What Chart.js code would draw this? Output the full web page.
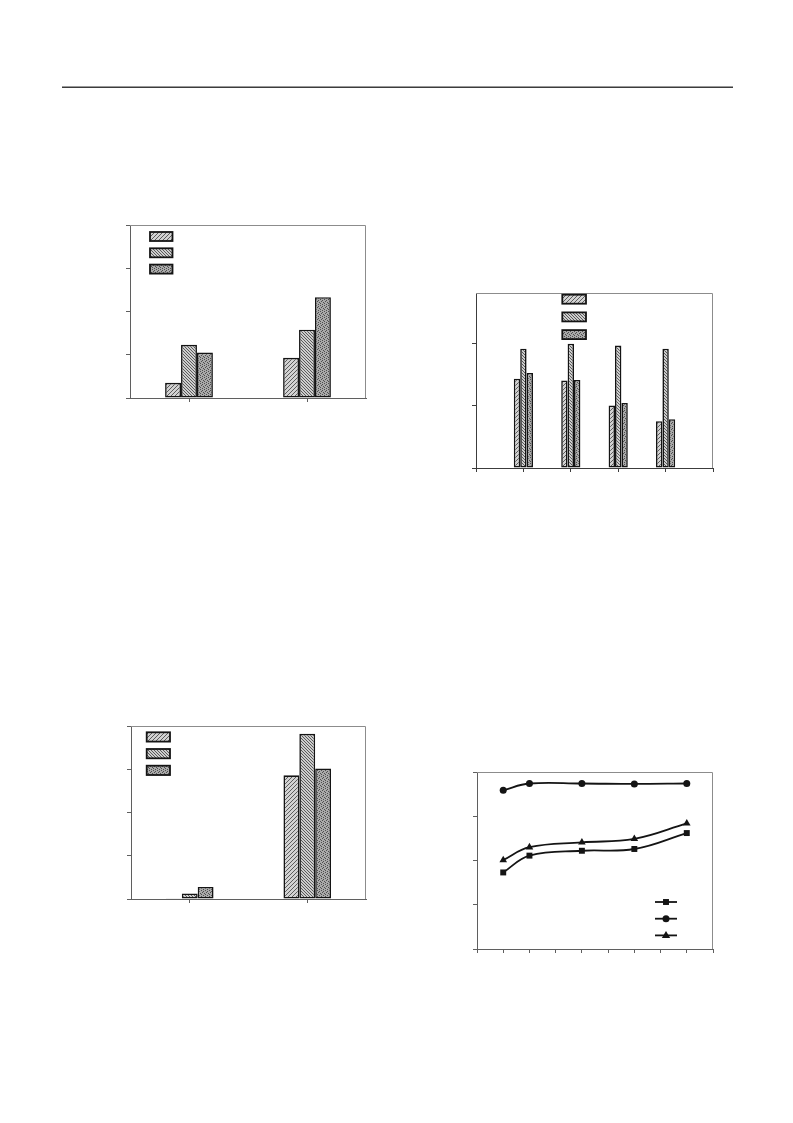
<!DOCTYPE html>
<html>
<head>
<meta charset="utf-8">
<script src="https://cdn.jsdelivr.net/npm/chart.js@4.4.1/dist/chart.umd.min.js"></script>
<style>
  html, body { margin: 0; padding: 0; background: #fff; }
  body { width: 793px; height: 1123px; position: relative; overflow: hidden; font-family: "Liberation Serif", serif; }
  .rule { position: absolute; left: 62px; top: 86px; width: 671px; height: 0;
          border-top: 1px solid #9a9a9a; border-bottom: 1px solid #3c3c3c; }
  canvas { position: absolute; }
</style>
</head>
<body>
<div class="rule"></div>
<canvas id="chartTopLeft"  width="260" height="197" style="left:116px;top:215px;width:260px;height:197px"></canvas>
<canvas id="chartTopRight" width="261" height="199" style="left:462px;top:283px;width:261px;height:199px"></canvas>
<canvas id="chartLowLeft"  width="259" height="197" style="left:117px;top:716px;width:259px;height:197px"></canvas>
<canvas id="chartLowRight" width="260" height="201" style="left:463px;top:762px;width:260px;height:201px"></canvas>

<script>
// ---- values ----
// upper-left grouped bars (two groups, three series)
const pairCategories = ['1', '2'];
const pairSeriesA = [0.35, 0.93];
const pairSeriesB = [1.23, 1.58];
const pairSeriesC = [1.05, 2.33];
const pairAxisRange = [0, 4];

// upper-right grouped bars (four groups, empty slots at both ends)
const stageCategories = ['', '1', '2', '3', '4', ''];
const stageSeriesA = [null, 1.43, 1.40, 1.00, 0.75, null];
const stageSeriesB = [null, 1.91, 1.99, 1.96, 1.91, null];
const stageSeriesC = [null, 1.52, 1.41, 1.04, 0.78, null];
const stageAxisRange = [0, 2.8];

// lower-left grouped bars
const lowCategories = ['1', '2'];
const lowSeriesA = [0.02, 2.86];
const lowSeriesB = [0.13, 3.82];
const lowSeriesC = [0.28, 3.02];
const lowAxisRange = [0, 4];

// lower-right line chart
const lineX = [1, 2, 4, 6, 8];
const lineSquares   = [1.73, 2.11, 2.22, 2.26, 2.62];
const lineCircles   = [3.59, 3.74, 3.74, 3.73, 3.74];
const lineTriangles = [2.01, 2.30, 2.41, 2.49, 2.84];
const lineXRange = [0, 9];
const lineYRange = [0, 4];

// ---- fill patterns ----
function hatch(dir, bg, fg, step) {
  const c = document.createElement('canvas');
  c.width = c.height = step;
  const g = c.getContext('2d');
  g.fillStyle = bg; g.fillRect(0, 0, step, step);
  g.strokeStyle = fg; g.lineWidth = 1;
  g.beginPath();
  for (let k = -1; k <= 1; k++) {
    if (dir > 0) { g.moveTo(k * step, step); g.lineTo(k * step + step, 0); }
    else { g.moveTo(k * step, 0); g.lineTo(k * step + step, step); }
  }
  g.stroke();
  return g.createPattern(c, 'repeat');
}
function stipple(bg, fg) {
  const mask = ['1000', '0010', '0100', '0001', '1000', '0010'];
  const c = document.createElement('canvas');
  c.width = 4; c.height = mask.length;
  const g = c.getContext('2d');
  g.fillStyle = bg; g.fillRect(0, 0, c.width, c.height);
  g.fillStyle = fg;
  mask.forEach((row, y) => [...row].forEach((v, x) => { if (v === '1') g.fillRect(x, y, 1, 1); }));
  return g.createPattern(c, 'repeat');
}
const fillA = hatch(1, '#d2d2d2', '#5c5c5c', 4);
const fillB = hatch(-1, '#cdcdcd', '#5a5a5a', 3);
const fillC = stipple('#a9a9a9', '#4e4e4e');

const AXIS = '#5f5f5f';
const FRAME = '#8c8c8c';

// top and right edges of the plot frame
const framePlugin = {
  id: 'frame',
  beforeDatasetsDraw(chart) {
    const { ctx, chartArea: a } = chart;
    const t = Math.round(a.top) + 0.5, r = Math.round(a.right) - 0.5;
    ctx.save();
    ctx.strokeStyle = FRAME; ctx.lineWidth = 1;
    ctx.beginPath();
    ctx.moveTo(a.left, t); ctx.lineTo(r, t); ctx.lineTo(r, a.bottom);
    ctx.stroke();
    ctx.restore();
  }
};

// key drawn inside the plot area, one entry per dataset
const keyPlugin = {
  id: 'insideKey',
  afterDraw(chart, args, o) {
    if (!o || !o.kind) return;
    const { ctx, chartArea: a } = chart;
    ctx.save();
    chart.data.datasets.forEach((ds, i) => {
      const x = a.left + o.x, y = a.top + o.y + i * o.gap;
      if (o.kind === 'box') {
        ctx.fillStyle = ds.backgroundColor;
        ctx.fillRect(x, y, o.w, o.h);
        ctx.lineWidth = 1.8; ctx.strokeStyle = '#141414';
        ctx.strokeRect(x, y, o.w, o.h);
      } else {
        ctx.strokeStyle = ds.borderColor; ctx.lineWidth = ds.borderWidth;
        ctx.beginPath(); ctx.moveTo(x, y); ctx.lineTo(x + o.w, y); ctx.stroke();
        const cx = x + o.w / 2, r = ds.pointRadius;
        ctx.fillStyle = '#141414';
        ctx.beginPath();
        if (ds.pointStyle === 'rect') {
          const s = r * Math.SQRT1_2; ctx.rect(cx - s, y - s, 2 * s, 2 * s);
        } else if (ds.pointStyle === 'triangle') {
          ctx.moveTo(cx, y - r); ctx.lineTo(cx + r * 0.95, y + r * 0.6); ctx.lineTo(cx - r * 0.95, y + r * 0.6); ctx.closePath();
        } else {
          ctx.arc(cx, y, r, 0, Math.PI * 2);
        }
        ctx.fill();
      }
    });
    ctx.restore();
  }
};

function barDataset(values, fill) {
  return { label: '', data: values, backgroundColor: fill, borderColor: '#141414', borderWidth: 1.6,
           borderSkipped: false, categoryPercentage: 0.405, barPercentage: 1.0 };
}

function valueAxis(range, color) {
  return {
    min: range[0], max: range[1],
    ticks: { display: false, stepSize: 1, includeBounds: false },
    grid: { drawOnChartArea: false, drawTicks: true, tickLength: 4, color: color || AXIS, tickWidth: 1 },
    border: { display: true, color: color || AXIS, width: 1 }
  };
}

function baseOptions(extra) {
  return Object.assign({
    responsive: false, animation: false, devicePixelRatio: 1,
    layout: { padding: { left: 10, top: 10, right: 10, bottom: 10 } },
  }, extra);
}

// upper-left
new Chart(document.getElementById('chartTopLeft'), {
  type: 'bar',
  data: { labels: pairCategories, datasets: [barDataset(pairSeriesA, fillA), barDataset(pairSeriesB, fillB), barDataset(pairSeriesC, fillC)] },
  options: baseOptions({
    plugins: { legend: { display: false }, tooltip: { enabled: false },
               insideKey: { kind: 'box', x: 20, y: 7, w: 22.5, h: 9, gap: 16.3 } },
    scales: {
      x: { type: 'category', offset: true, ticks: { display: false },
           grid: { offset: false, drawOnChartArea: false, drawTicks: true, tickLength: 4, color: AXIS },
           border: { display: true, color: AXIS, width: 1 } },
      y: valueAxis(pairAxisRange)
    }
  }),
  plugins: [framePlugin, keyPlugin]
});

// upper-right
new Chart(document.getElementById('chartTopRight'), {
  type: 'bar',
  data: { labels: stageCategories, datasets: [barDataset(stageSeriesA, fillA), barDataset(stageSeriesB, fillB), barDataset(stageSeriesC, fillC)] },
  options: baseOptions({
    plugins: { legend: { display: false }, tooltip: { enabled: false },
               insideKey: { kind: 'box', x: 86.3, y: 1.7, w: 23.7, h: 9, gap: 17.7 } },
    scales: {
      x: { type: 'category', offset: false, ticks: { display: false },
           grid: { offset: false, drawOnChartArea: false, drawTicks: true, tickLength: 4, color: '#3c3c3c' },
           border: { display: true, color: '#3c3c3c', width: 1 } },
      y: valueAxis(stageAxisRange, '#3c3c3c')
    }
  }),
  plugins: [framePlugin, keyPlugin]
});

// lower-left
new Chart(document.getElementById('chartLowLeft'), {
  type: 'bar',
  data: { labels: lowCategories, datasets: [barDataset(lowSeriesA, fillA), barDataset(lowSeriesB, fillB), barDataset(lowSeriesC, fillC)] },
  options: baseOptions({
    plugins: { legend: { display: false }, tooltip: { enabled: false },
               insideKey: { kind: 'box', x: 15.7, y: 6.3, w: 23.3, h: 9.3, gap: 16.7 } },
    scales: {
      x: { type: 'category', offset: true, ticks: { display: false },
           grid: { offset: false, drawOnChartArea: false, drawTicks: true, tickLength: 4, color: AXIS },
           border: { display: true, color: AXIS, width: 1 } },
      y: valueAxis(lowAxisRange)
    }
  }),
  plugins: [framePlugin, keyPlugin]
});

// lower-right
function lineDataset(values, style, radius) {
  return {
    label: '', data: lineX.map((x, i) => ({ x: x, y: values[i] })),
    borderColor: '#141414', borderWidth: 1.8, backgroundColor: '#141414',
    pointStyle: style, pointRadius: radius, pointBorderWidth: 0, pointBackgroundColor: '#141414',
    tension: 0.4, fill: false
  };
}
new Chart(document.getElementById('chartLowRight'), {
  type: 'line',
  data: { datasets: [lineDataset(lineSquares, 'rect', 4.2), lineDataset(lineCircles, 'circle', 3.5), lineDataset(lineTriangles, 'triangle', 4.4)] },
  options: baseOptions({
    plugins: { legend: { display: false }, tooltip: { enabled: false },
               insideKey: { kind: 'line', x: 178, y: 130, w: 22, h: 0, gap: 16.7 } },
    scales: {
      x: { type: 'linear', min: lineXRange[0], max: lineXRange[1],
           ticks: { display: false, stepSize: 1 },
           grid: { drawOnChartArea: false, drawTicks: true, tickLength: 4, color: AXIS },
           border: { display: true, color: AXIS, width: 1 } },
      y: valueAxis(lineYRange)
    }
  }),
  plugins: [framePlugin, keyPlugin]
});
</script>
</body>
</html>
